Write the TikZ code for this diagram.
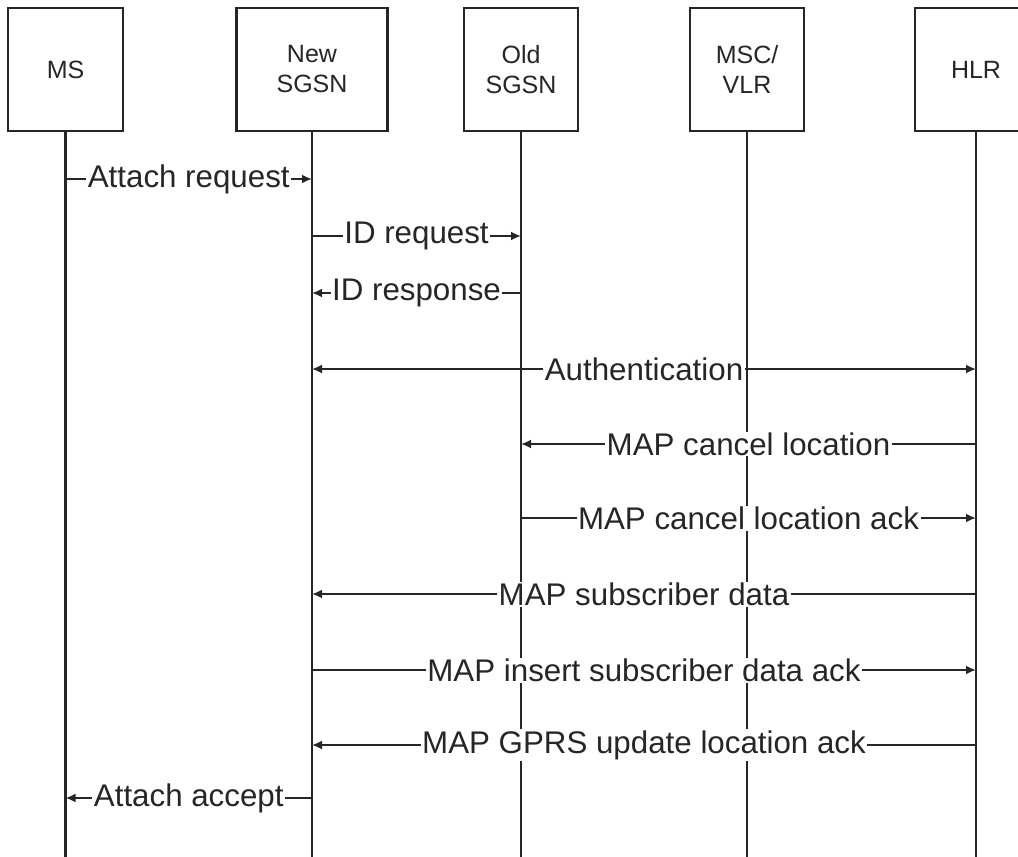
\documentclass[tikz,border=0pt]{standalone}
\usepackage{fontspec}
\setmainfont{Liberation Sans}
\usetikzlibrary{arrows.meta}
\definecolor{ink}{HTML}{262626}
\tikzset{
  ent/.style={draw=ink, line width=2.2pt, fill=white, minimum height=123pt,
    align=center, inner sep=0pt, font=\fontsize{25}{30}\selectfont, text=ink},
  life/.style={draw=ink, line width=2.2pt},
  tip/.tip={Latex[length=10pt,width=9pt]},
  msg/.style={draw=ink, line width=2.2pt, -tip},
  bidir/.style={draw=ink, line width=2.2pt, tip-tip},
  lbl/.style={fill=white, inner xsep=1.5pt, inner ysep=1pt, text=ink,
    font=\fontsize{31.3}{35}\selectfont}
}
\begin{document}
\begin{tikzpicture}[x=1pt,y=-1pt]
\useasboundingbox (0,0) rectangle (1018,857);
% participants
\node[ent, minimum width=115pt] (ms)  at (65.5,69.5)  {MS};
\node[ent, minimum width=151pt] (nsg) at (312,69.5)   {New\\SGSN};
\node[ent, minimum width=114pt] (osg) at (521,69.5)   {Old\\SGSN};
\node[ent, minimum width=114pt] (vlr) at (747,69.5)   {MSC/\\VLR};
\node[ent, minimum width=122pt] (hlr) at (976,69.5)   {HLR};
% lifelines
\foreach \n in {ms,nsg,osg,vlr,hlr}
  \draw[life] (\n.south) -- (\n.south |- 0,857);
% messages
\draw[msg] (ms.south |- 0,179) -- node[lbl]{Attach request} (nsg.south |- 0,179);
\draw[msg] (nsg.south |- 0,236) -- node[lbl]{ID request} (osg.south |- 0,236);
\draw[msg] (osg.south |- 0,293) -- node[lbl]{ID response} (nsg.south |- 0,293);
\draw[bidir] (nsg.south |- 0,369) -- node[lbl]{Authentication} (hlr.south |- 0,369);
\draw[msg] (hlr.south |- 0,444) -- node[lbl]{MAP cancel location} (osg.south |- 0,444);
\draw[msg] (osg.south |- 0,518) -- node[lbl]{MAP cancel location ack} (hlr.south |- 0,518);
\draw[msg] (hlr.south |- 0,594) -- node[lbl]{MAP subscriber data} (nsg.south |- 0,594);
\draw[msg] (nsg.south |- 0,670) -- node[lbl]{MAP insert subscriber data ack} (hlr.south |- 0,670);
\draw[msg] (hlr.south |- 0,745) -- node[lbl]{MAP GPRS update location ack} (nsg.south |- 0,745);
\draw[msg] (nsg.south |- 0,798) -- node[lbl]{Attach accept} (ms.south |- 0,798);
\end{tikzpicture}
\end{document}
